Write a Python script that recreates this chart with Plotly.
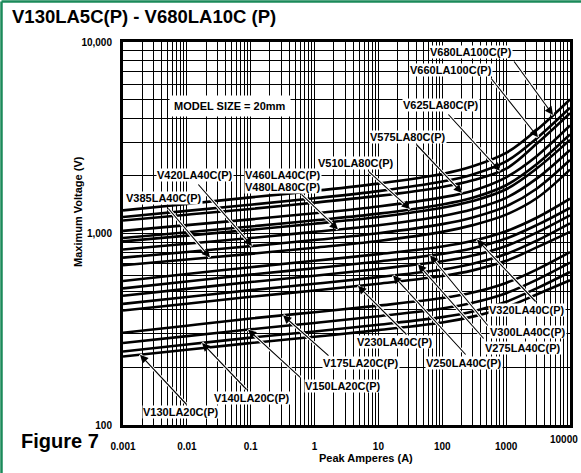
import numpy as np
import plotly.graph_objects as go

# ---------------- data ----------------
current = [0.001, 0.01, 0.1, 1, 10, 100, 300, 1000, 3000, 10000]

models = ["V130LA20C(P)", "V140LA20C(P)", "V150LA20C(P)", "V175LA20C(P)",
          "V230LA40C(P)", "V250LA40C(P)", "V275LA40C(P)", "V300LA40C(P)",
          "V320LA40C(P)", "V385LA40C(P)", "V420LA40C(P)", "V460LA40C(P)",
          "V480LA80C(P)", "V510LA80C(P)", "V575LA80C(P)", "V625LA80C(P)",
          "V660LA100C(P)", "V680LA100C(P)"]

v130 = [228, 247, 268, 289, 313, 343, 368, 412, 480, 570]
v140 = [242, 263, 286, 308, 334, 366, 392, 440, 517, 630]
v150 = [268, 291, 316, 341, 370, 406, 435, 488, 573, 705]
v175 = [303, 330, 360, 388, 420, 460, 492, 552, 648, 800]
v230 = [396, 430, 467, 504, 547, 600, 642, 720, 846, 1020]
v250 = [429, 466, 506, 546, 592, 649, 696, 781, 917, 1130]
v275 = [473, 514, 558, 602, 653, 716, 767, 861, 1011, 1245]
v300 = [517, 562, 610, 658, 714, 783, 838, 941, 1105, 1360]
v320 = [565, 614, 667, 720, 780, 855, 916, 1028, 1208, 1520]
v385 = [682, 731, 783, 843, 914, 1020, 1106, 1255, 1527, 2157]
v420 = [748, 801, 859, 924, 1002, 1119, 1213, 1386, 1714, 2420]
v460 = [825, 884, 947, 1020, 1105, 1234, 1338, 1536, 1934, 2732]
v480 = [910, 975, 1045, 1125, 1219, 1362, 1476, 1702, 2183, 3083]
v510 = [948, 1016, 1088, 1172, 1270, 1418, 1537, 1786, 2300, 3287]
v575 = [1032, 1106, 1185, 1275, 1383, 1544, 1674, 1966, 2533, 3662]
v625 = [1170, 1254, 1343, 1450, 1572, 1751, 1898, 2179, 2939, 4248]
v660 = [1220, 1313, 1414, 1529, 1665, 1868, 2034, 2379, 3136, 4533]
v680 = [1320, 1427, 1544, 1669, 1822, 2044, 2242, 2634, 3472, 5019]

series = [v130, v140, v150, v175, v230, v250, v275, v300, v320,
          v385, v420, v460, v480, v510, v575, v625, v660, v680]

x_tick_labels = ["0.001", "0.01", "0.1", "1", "10", "100", "1000", "10000"]
y_tick_labels = {100: "100", 1000: "1,000", 10000: "10,000"}

# ---------------- geometry helpers (plot area in pixels) ----------------
W_FIG, H_FIG = 581, 473
L, T, R, B = 123, 42, 11, 48
PW, PH = W_FIG - L - R, H_FIG - T - B


def lx(px):
    return -3 + 7 * (px - L) / PW


def ly(py):
    return 4 - 2 * (py - T) / PH


def px_paper(px):
    return (px - L) / PW


def py_paper(py):
    return 1 - (py - T) / PH


FONT = "Liberation Sans, Arial, Helvetica, sans-serif"
TICKFONT = dict(family=FONT, size=10, color="black", weight="bold")

fig = go.Figure()
for name, vals in zip(models, series):
    fig.add_trace(go.Scatter(x=current, y=vals, mode="lines", name=name,
                             line=dict(color="black", width=2.6, shape="spline", smoothing=1.0),
                             showlegend=False, hoverinfo="skip"))

# label text centre (px), arrow tail (px), arrow tip x (px)
callouts = [
    ("V680LA100C(P)", (471, 52), (513, 60), 553),
    ("V660LA100C(P)", (451, 70), (490, 77), 538),
    ("V625LA80C(P)", (441, 105), (447, 113), 500),
    ("V575LA80C(P)", (408, 137), (415, 143), 462),
    ("V510LA80C(P)", (356, 163), (367, 170), 410),
    ("V460LA40C(P)", (283, 175), None, None),
    ("V480LA80C(P)", (283, 187), (300, 193), 338),
    ("V420LA40C(P)", (195, 175), (197, 183), 252),
    ("V385LA40C(P)", (164, 198), (167, 207), 210),
    ("V320LA40C(P)", (527, 310), (537, 303), 477),
    ("V300LA40C(P)", (528, 332), (489, 327), 430),
    ("V275LA40C(P)", (523, 348), (485, 340), 418),
    ("V250LA40C(P)", (464, 363), (467, 356), 393),
    ("V230LA40C(P)", (395, 342), (408, 336), 358),
    ("V175LA20C(P)", (361, 363), (330, 357), 283),
    ("V150LA20C(P)", (343, 386), (302, 379), 248),
    ("V140LA20C(P)", (252, 398), (248, 391), 202),
    ("V130LA20C(P)", (181, 412), (188, 406), 140),
]
# which curve each arrow points at
arrow_target = {"V480LA80C(P)": "V460LA40C(P)"}

lc = np.log10(current)
annotations = []
for text, (cx, cy), tail, tipx in callouts:
    if tail is not None:
        target = arrow_target.get(text, text)
        vals = series[models.index(target)]
        tip_y = float(np.interp(lx(tipx), lc, np.log10(vals)))
        for col, wid, head in (("white", 3.2, 0), ("black", 1.1, 2)):
            annotations.append(dict(x=lx(tipx), y=tip_y, xref="x", yref="y",
                                    ax=lx(tail[0]), ay=ly(tail[1]), axref="x", ayref="y",
                                    text="", showarrow=True, arrowhead=head, arrowsize=1.5,
                                    arrowwidth=wid, arrowcolor=col, standoff=0, startstandoff=0))
for text, (cx, cy), tail, tipx in callouts:
    annotations.append(dict(x=lx(cx), y=ly(cy), xref="x", yref="y", text=text,
                            showarrow=False, bgcolor="white", borderpad=0,
                            font=dict(family=FONT, size=11, color="black", weight="bold")))

annotations.append(dict(x=lx(230), y=ly(106), xref="x", yref="y", text="MODEL SIZE = 20mm",
                        showarrow=False, bgcolor="white", borderpad=4,
                        font=dict(family=FONT, size=11, color="black", weight="bold")))

# last x tick label placed so it stays inside the picture
annotations.append(dict(x=px_paper(580), y=py_paper(447), xref="paper", yref="paper",
                        xanchor="right", text=x_tick_labels[-1], showarrow=False,
                        font=TICKFONT))

# axis titles and figure caption
annotations.append(dict(x=px_paper(70), y=py_paper(212), xref="paper", yref="paper",
                        text="Maximum Voltage (V)", textangle=-90, showarrow=False,
                        font=dict(family=FONT, size=11, color="black", weight="bold")))
annotations.append(dict(x=px_paper(366), y=py_paper(466), xref="paper", yref="paper",
                        text="Peak Amperes (A)", showarrow=False,
                        font=dict(family=FONT, size=11, color="black", weight="bold")))
annotations.append(dict(x=px_paper(19), y=py_paper(454), xref="paper", yref="paper",
                        xanchor="left", text="Figure 7", showarrow=False,
                        font=dict(family=FONT, size=20, color="black", weight="bold")))

xgrid = [m * 10.0 ** e for e in range(-3, 4) for m in range(1, 10)] + [10000.0]
xtext = [x_tick_labels[i // 9] if i % 9 == 0 else "" for i in range(63)] + [""]
ygrid = [m * 10.0 ** e for e in range(2, 4) for m in range(1, 10)] + [10000.0]
ytext = [y_tick_labels.get(int(round(v)), "") for v in ygrid]

green = "#1b8a5a"
shapes = [
    dict(type="line", xref="paper", yref="paper", x0=px_paper(1.5), x1=px_paper(1.5),
         y0=py_paper(H_FIG), y1=py_paper(1.5), line=dict(color=green, width=2.5)),
    dict(type="line", xref="paper", yref="paper", x0=px_paper(1.5), x1=px_paper(W_FIG),
         y0=py_paper(1.5), y1=py_paper(1.5), line=dict(color=green, width=2.5)),
]

fig.update_layout(
    width=W_FIG, height=H_FIG,
    margin=dict(l=L, r=R, t=T, b=B, autoexpand=False),
    paper_bgcolor="white", plot_bgcolor="white",
    title=dict(text="V130LA5C(P) - V680LA10C (P)", x=12 / W_FIG, xanchor="left",
               xref="container", yref="container", y=1 - 17 / H_FIG, yanchor="middle",
               font=dict(family=FONT, size=18.5, color="black", weight="bold")),
    xaxis=dict(type="log", range=[-3, 4], tickmode="array", tickvals=xgrid, ticktext=xtext,
               showgrid=True, gridcolor="black", gridwidth=1, zeroline=False,
               showline=True, linecolor="black", linewidth=3, mirror=True, ticks="",
               ticklabelstandoff=10, ticklabeloverflow="allow", tickfont=TICKFONT),
    yaxis=dict(type="log", range=[2, 4], tickmode="array", tickvals=ygrid, ticktext=ytext,
               showgrid=True, gridcolor="black", gridwidth=1, zeroline=False,
               showline=True, linecolor="black", linewidth=3, mirror=True, ticks="",
               ticklabelstandoff=6, ticklabeloverflow="allow", tickfont=TICKFONT),
    annotations=annotations,
    shapes=shapes,
    showlegend=False,
)

fig.write_html("out.html", config={"displayModeBar": False},
               post_script="document.body.style.margin='0';")
